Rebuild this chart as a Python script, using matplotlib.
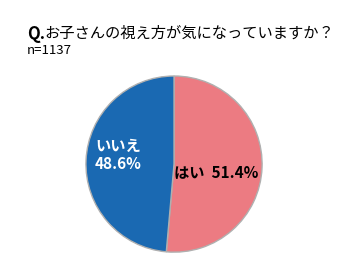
import matplotlib
matplotlib.use('Agg')
import matplotlib.pyplot as plt

plt.rcParams['font.family'] = ['Noto Sans CJK JP', 'DejaVu Sans']

# データ
labels = ['はい', 'いいえ']
values = [51.4, 48.6]
colors = ['#EC7B82', '#1A69B2']
title_q = 'Q.'
title_text = 'お子さんの視え方が気になっていますか？'
n_text = 'n=1137'

fig = plt.figure(figsize=(3.53, 2.76), dpi=100)
ax = fig.add_axes([0.241, 0.083, 0.504, 0.645])

wedges, _ = ax.pie(values, colors=colors, startangle=90, counterclock=False,
                   wedgeprops={'edgecolor': '#B0B0B0', 'linewidth': 1.0})
ax.set_aspect('equal')
ax.set_xlim(-1.01, 1.01)
ax.set_ylim(-1.01, 1.01)

# ラベル
ax.text(0.48, -0.09, f'{labels[0]}  {values[0]}%', ha='center', va='center',
        fontsize=11, fontweight='bold', color='black')
ax.text(-0.63, 0.10, f'{labels[1]}\n{values[1]}%', ha='center', va='center',
        fontsize=11, fontweight='bold', color='white', linespacing=1.15)

# タイトル
t = fig.text(0.076, 0.878, title_q, fontsize=12, fontweight='bold', va='center')
fig.canvas.draw()
bb = t.get_window_extent()
x2 = bb.x1 / fig.bbox.width
fig.text(x2, 0.878, title_text, fontsize=11, va='center')
fig.text(0.076, 0.818, n_text, fontsize=9.5, va='center')

fig.savefig('out.png', dpi=100)
